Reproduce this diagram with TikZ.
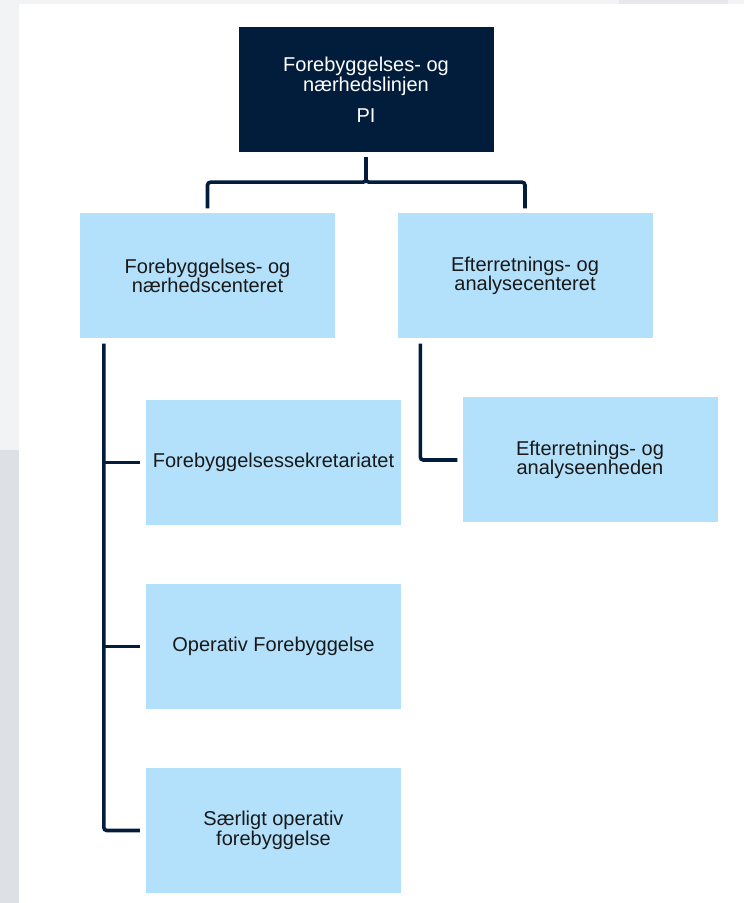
\documentclass[tikz,border=0pt]{standalone}
\usepackage{fontspec}
\setmainfont{Liberation Sans}
\definecolor{navy}{HTML}{011D3B}
\definecolor{lightblue}{HTML}{B3E1FB}
\definecolor{pagegray}{HTML}{F1F3F5}
\definecolor{sidegray}{HTML}{DDE1E5}
\definecolor{tabgray}{HTML}{E6E8EB}
\begin{document}
\begin{tikzpicture}[x=1pt, y=1pt,
    unit/.style={minimum width=255pt, minimum height=125pt, inner sep=0pt,
      align=center, font=\fontsize{20}{18}\selectfont},
    lead/.style={unit, fill=navy, text=white},
    dept/.style={unit, fill=lightblue, text=black!90},
    conn/.style={draw=navy, line width=3.6pt, rounded corners=3pt}]
    \useasboundingbox (0,0) rectangle (744,903);

    % Background of the page
    \fill[pagegray] (0,0) rectangle (744,903);
    \fill[sidegray] (0,0) rectangle (19,453);
    \fill[tabgray] (619,899) rectangle (728,903);
    \fill[white] (19,0) rectangle (744,899);

    % Top of the line
    \node[lead] (pi) at (366,813.5) {Forebyggelses- og\\nærhedslinjen\\[13pt]PI};

    % The two centres
    \node[dept] (fncenter) at (207.5,627) {Forebyggelses- og\\nærhedscenteret};
    \node[dept] (eacenter) at (525,627) {Efterretnings- og\\analysecenteret};

    % Units under the centres
    \node[dept] (sekretariat) at (273.5,440.5) {Forebyggelsessekretariatet};
    \node[dept] (opforeb) at (273.5,256.5) {Operativ Forebyggelse};
    \node[dept] (saerlig) at (273.5,72.5) {Særligt operativ\\forebyggelse};
    \node[dept] (eaenhed) at (590,443) {Efterretnings- og\\analyseenheden};

    % Lines from the top
    \draw[conn] ([yshift=-5pt]pi.south) -- ++(0,-25) -| ([yshift=5pt]fncenter.north);
    \draw[conn] ([yshift=-5pt]pi.south) -- ++(0,-25) -| ([yshift=5pt]eacenter.north);

    % Lines down the left side
    \coordinate (lspine) at ([xshift=24pt,yshift=-5pt]fncenter.south west);
    \draw[conn] (lspine) |- ([xshift=-6pt]saerlig.west);
    \draw[conn] ([xshift=-6pt]sekretariat.west) -- (sekretariat.west -| lspine);
    \draw[conn] ([xshift=-6pt]opforeb.west) -- (opforeb.west -| lspine);

    % Line down the right side
    \coordinate (rspine) at ([xshift=23pt,yshift=-5pt]eacenter.south west);
    \draw[conn] (rspine) |- ([xshift=-5pt]eaenhed.west);
\end{tikzpicture}
\end{document}
